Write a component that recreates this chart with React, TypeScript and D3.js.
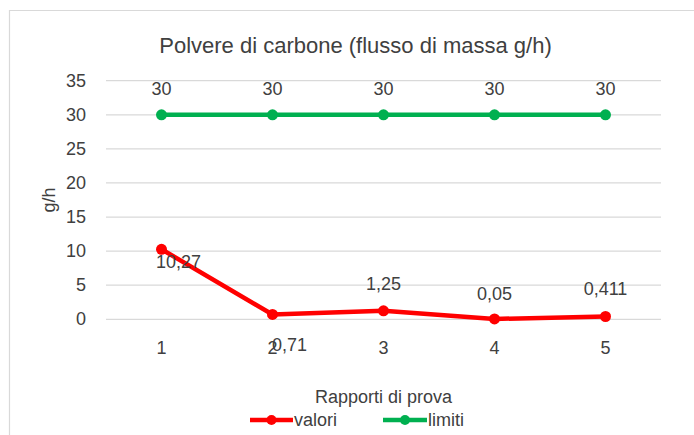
import React from "react";
import * as d3 from "d3";

const categories = ["1", "2", "3", "4", "5"];
const valori = [10.27, 0.71, 1.25, 0.05, 0.411];
const limiti = [30, 30, 30, 30, 30];
const yTicks = [0, 5, 10, 15, 20, 25, 30, 35];
const valoriLabels = ["10,27", "0,71", "1,25", "0,05", "0,411"];
const limitiLabels = ["30", "30", "30", "30", "30"];
const title = "Polvere di carbone (flusso di massa g/h)";
const yTitle = "g/h";
const xTitle = "Rapporti di prova";
const seriesNames = ["valori", "limiti"];

// label placement offsets (layout, not data)
const valoriLabelOffsets: [number, number][] = [
  [17, 13],
  [17, 31],
  [0, -27],
  [0, -25],
  [0, -27],
];

const W = 694;
const H = 435;
const FONT = "'Liberation Sans', Arial, sans-serif";
const RED = "#FF0000";
const GREEN = "#00B050";

export default function App() {
  const x = d3
    .scaleBand<string>()
    .domain(categories)
    .range([106, 661]);
  const y = d3.scaleLinear().domain([0, 35]).range([319.3, 80.7]);
  const cx = (c: string) => (x(c) as number) + x.bandwidth() / 2;

  const line = d3
    .line<number>()
    .x((_, i) => cx(categories[i]))
    .y((d) => y(d));

  return (
    <svg
      width={W}
      height={H}
      style={{ position: "absolute", left: 0, top: 0, background: "#fff" }}
    >
      <rect x={0} y={0} width={W} height={H} fill="#fff" />
      {/* chart border */}
      <path d={`M9.5,${H} V10.5 H${W}`} fill="none" stroke="#D9D9D9" strokeWidth={1.2} />

      <text
        x={355.5}
        y={45}
        textAnchor="middle"
        dominantBaseline="central"
        fontFamily={FONT}
        fontSize={22}
        fill="#404040"
      >
        {title}
      </text>

      {/* gridlines */}
      {yTicks.map((t) => (
        <line
          key={t}
          x1={106}
          x2={661}
          y1={y(t)}
          y2={y(t)}
          stroke="#D9D9D9"
          strokeWidth={1.2}
        />
      ))}
      {yTicks.map((t) => (
        <text
          key={"yt" + t}
          x={86}
          y={y(t)}
          textAnchor="end"
          dominantBaseline="central"
          fontFamily={FONT}
          fontSize={18}
          fill="#404040"
        >
          {t}
        </text>
      ))}
      <text
        transform={`translate(49,200) rotate(-90)`}
        textAnchor="middle"
        dominantBaseline="central"
        fontFamily={FONT}
        fontSize={18}
        fill="#404040"
      >
        {yTitle}
      </text>

      {categories.map((c) => (
        <text
          key={"xt" + c}
          x={cx(c)}
          y={348}
          textAnchor="middle"
          dominantBaseline="central"
          fontFamily={FONT}
          fontSize={18}
          fill="#404040"
        >
          {c}
        </text>
      ))}
      <text
        x={383.5}
        y={397}
        textAnchor="middle"
        dominantBaseline="central"
        fontFamily={FONT}
        fontSize={18}
        fill="#404040"
      >
        {xTitle}
      </text>

      {/* limiti series */}
      <path d={line(limiti) || ""} fill="none" stroke={GREEN} strokeWidth={4.5} strokeLinejoin="round" />
      {limiti.map((v, i) => (
        <circle key={"gm" + i} cx={cx(categories[i])} cy={y(v)} r={5.5} fill={GREEN} />
      ))}
      {limiti.map((v, i) => (
        <text
          key={"gl" + i}
          x={cx(categories[i])}
          y={y(v) - 26}
          textAnchor="middle"
          dominantBaseline="central"
          fontFamily={FONT}
          fontSize={18}
          fill="#404040"
        >
          {limitiLabels[i]}
        </text>
      ))}

      {/* valori series */}
      <path d={line(valori) || ""} fill="none" stroke={RED} strokeWidth={4.5} strokeLinejoin="round" />
      {valori.map((v, i) => (
        <circle key={"rm" + i} cx={cx(categories[i])} cy={y(v)} r={5.5} fill={RED} />
      ))}
      {valori.map((v, i) => (
        <text
          key={"rl" + i}
          x={cx(categories[i]) + valoriLabelOffsets[i][0]}
          y={y(v) + valoriLabelOffsets[i][1]}
          textAnchor="middle"
          dominantBaseline="central"
          fontFamily={FONT}
          fontSize={18}
          fill="#404040"
        >
          {valoriLabels[i]}
        </text>
      ))}

      {/* legend */}
      <g>
        <line x1={250} x2={293} y1={420} y2={420} stroke={RED} strokeWidth={4.5} />
        <circle cx={271.5} cy={420} r={5} fill={RED} />
        <text x={294} y={420} dominantBaseline="central" fontFamily={FONT} fontSize={18} fill="#404040">
          {seriesNames[0]}
        </text>
        <line x1={383} x2={427} y1={420} y2={420} stroke={GREEN} strokeWidth={4.5} />
        <circle cx={405} cy={420} r={5} fill={GREEN} />
        <text x={428} y={420} dominantBaseline="central" fontFamily={FONT} fontSize={18} fill="#404040">
          {seriesNames[1]}
        </text>
      </g>
    </svg>
  );
}
